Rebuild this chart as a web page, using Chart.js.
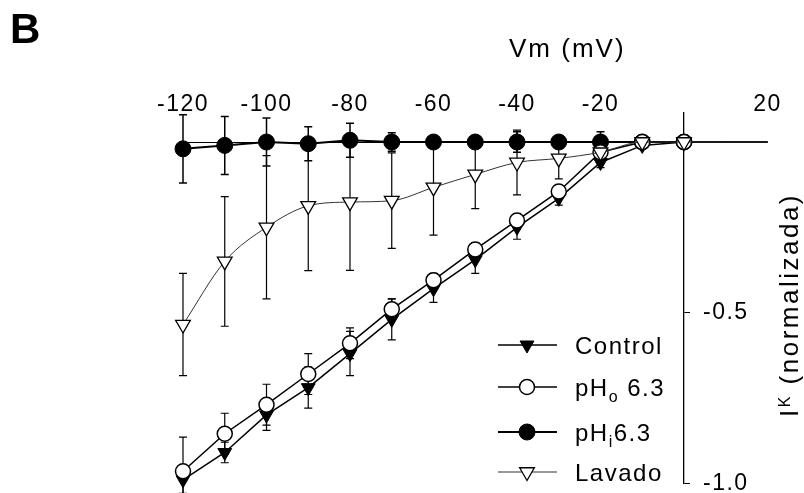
<!DOCTYPE html>
<html>
<head>
<meta charset="utf-8">
<script src="https://cdn.jsdelivr.net/npm/chart.js@4/dist/chart.umd.min.js"></script>
<style>
  html, body { margin: 0; padding: 0; background: #fff; }
  #wrap { width: 804px; height: 493px; }
</style>
</head>
<body>
<div id="wrap"><canvas id="iv" width="804" height="493"></canvas></div>
<script>
// Membrane potential (mV)
const vm = [-120, -110, -100, -90, -80, -70, -60, -50, -40, -30, -20, -10, 0, 10, 20];

// Normalised K+ current, mean and error for each condition
const control    = [-0.99, -0.91, -0.80, -0.72, -0.62, -0.52, -0.43, -0.345, -0.25, -0.165, -0.06, -0.01, 0, 0, 0];
const controlErr = [0.04, 0.03, 0.045, 0.06, 0.065, 0.06, 0.04, 0.04, 0.035, 0.02, 0.015, 0, 0, 0, 0];
const phO        = [-0.965, -0.855, -0.77, -0.68, -0.59, -0.49, -0.405, -0.315, -0.23, -0.145, -0.03, 0, 0, 0, 0];
const phOErr     = [0.1, 0.06, 0.06, 0.06, 0.045, 0.03, 0.02, 0.02, 0.02, 0.015, 0.01, 0, 0, 0, 0];
const phI        = [-0.02, -0.01, 0, -0.005, 0.005, 0, 0, 0, 0, 0, 0, 0, 0, 0, 0];
const phIErr     = [0.1, 0.085, 0.07, 0.05, 0.05, 0.027, 0.01, 0, 0.03, 0, 0.03, 0, 0, 0, 0];
const lavado     = [-0.535, -0.35, -0.25, -0.187, -0.176, -0.172, -0.133, -0.095, -0.06, -0.048, -0.03, 0, 0, 0, 0];
const lavadoErr  = [0.15, 0.19, 0.21, 0.19, 0.2, 0.14, 0.14, 0.10, 0.095, 0.06, 0.02, 0, 0, 0, 0];

// Axis ticks
const xTicks = [-120, -100, -80, -60, -40, -20, 20];
const yTicks = [-1.0, -0.5, 0];

const FONT = "'Liberation Sans', Arial, Helvetica, sans-serif";

function pts(values) {
  return values.map((v, i) => ({ x: vm[i], y: v }));
}

// Vertical error bars with caps, drawn underneath the markers
const errorBars = {
  id: 'errorBars',
  beforeDatasetsDraw(chart) {
    const { ctx, scales: { x, y } } = chart;
    ctx.save();
    chart.data.datasets.forEach(ds => {
      if (!ds.errors) return;
      ctx.strokeStyle = '#000';
      ctx.lineWidth = ds.errorWidth || 1;
      ds.data.forEach((p, i) => {
        const e = ds.errors[i];
        if (!e) return;
        const px = x.getPixelForValue(p.x);
        const y1 = y.getPixelForValue(p.y + e);
        const y2 = y.getPixelForValue(p.y - e);
        const c = 4;
        ctx.beginPath();
        ctx.moveTo(px, y1); ctx.lineTo(px, y2);
        ctx.moveTo(px - c, y1); ctx.lineTo(px + c, y1);
        ctx.moveTo(px - c, y2); ctx.lineTo(px + c, y2);
        ctx.stroke();
      });
    });
    ctx.restore();
  }
};

// Panel letter, axis titles and legend
const LEGEND_ROWS = [345, 387, 432, 472];
const decorations = {
  id: 'decorations',
  beforeDraw(chart) {
    chart.ctx.letterSpacing = '1.5px';
  },
  afterDraw(chart) {
    const ctx = chart.ctx;
    ctx.save();
    ctx.fillStyle = '#000';
    ctx.textBaseline = 'alphabetic';
    ctx.textAlign = 'left';

    // panel letter
    ctx.letterSpacing = '0px';
    ctx.font = 'bold 42px ' + FONT;
    ctx.fillText('B', 10, 43);

    // x title
    ctx.letterSpacing = '2px';
    ctx.font = '26px ' + FONT;
    ctx.fillText('Vm (mV)', 509, 57);

    // y title, rotated, with the K index
    ctx.save();
    ctx.translate(798, 305);
    ctx.rotate(-Math.PI / 2);
    ctx.letterSpacing = '2.5px';
    ctx.font = '26px ' + FONT;
    const wI = ctx.measureText('I').width;
    const rest = ' (normalizada)';
    const wR = ctx.measureText(rest).width;
    ctx.font = '16px ' + FONT;
    const wK = ctx.measureText('K').width;
    let sx = -(wI + wK + wR) / 2;
    ctx.font = '26px ' + FONT;
    ctx.fillText('I', sx, 0); sx += wI;
    ctx.font = '16px ' + FONT;
    ctx.fillText('K', sx, -8); sx += wK;
    ctx.font = '26px ' + FONT;
    ctx.fillText(rest, sx, 0);
    ctx.restore();

    // legend: sample line, marker and label for each series
    const items = chart.data.datasets.slice().sort((a, b) => a.legendRow - b.legendRow);
    items.forEach((ds, k) => {
      const yy = LEGEND_ROWS[k];
      ctx.save();
      ctx.strokeStyle = ds.borderColor;
      ctx.lineWidth = ds.borderWidth;
      ctx.beginPath();
      ctx.moveTo(498, yy); ctx.lineTo(557, yy);
      ctx.stroke();
      ctx.fillStyle = ds.pointBackgroundColor;
      ctx.strokeStyle = ds.pointBorderColor;
      ctx.lineWidth = ds.pointBorderWidth;
      Chart.helpers.drawPoint(ctx, {
        pointStyle: ds.pointStyle,
        rotation: ds.pointRotation || 0,
        radius: ds.pointRadius,
        borderWidth: ds.pointBorderWidth
      }, 527, yy);
      ctx.restore();

      ctx.save();
      ctx.fillStyle = '#000';
      ctx.letterSpacing = '1.5px';
      ctx.textBaseline = 'alphabetic';
      ctx.textAlign = 'left';
      const base = yy + 9;
      let tx = 575;
      ds.labelParts.forEach(part => {
        ctx.font = (part.sub ? '16px ' : '24px ') + FONT;
        ctx.fillText(part.t, tx, part.sub ? base + 6 : base);
        tx += ctx.measureText(part.t).width;
      });
      ctx.restore();
    });
    ctx.restore();
  }
};

const datasets = [
  {
    label: 'Control',
    legendRow: 0,
    labelParts: [{ t: 'Control' }],
    data: pts(control),
    errors: controlErr,
    errorWidth: 1.2,
    borderColor: '#000',
    borderWidth: 1.5,
    pointStyle: 'triangle',
    pointRotation: 180,
    pointRadius: 8,
    pointBackgroundColor: '#000',
    pointBorderColor: '#000',
    pointBorderWidth: 1,
    order: 3
  },
  {
    label: 'pHo 6.3',
    legendRow: 1,
    labelParts: [{ t: 'pH' }, { t: 'o', sub: true }, { t: ' 6.3' }],
    data: pts(phO),
    errors: phOErr,
    errorWidth: 1.2,
    borderColor: '#000',
    borderWidth: 1.5,
    pointStyle: 'circle',
    pointRadius: 7.5,
    pointBackgroundColor: '#fff',
    pointBorderColor: '#000',
    pointBorderWidth: 1.5,
    order: 2
  },
  {
    label: 'pHi 6.3',
    legendRow: 2,
    labelParts: [{ t: 'pH' }, { t: 'i', sub: true }, { t: '6.3' }],
    data: pts(phI),
    errors: phIErr,
    errorWidth: 1.5,
    borderColor: '#000',
    borderWidth: 2,
    pointStyle: 'circle',
    pointRadius: 8,
    pointBackgroundColor: '#000',
    pointBorderColor: '#000',
    pointBorderWidth: 1,
    order: 4
  },
  {
    label: 'Lavado',
    legendRow: 3,
    labelParts: [{ t: 'Lavado' }],
    data: pts(lavado),
    errors: lavadoErr,
    errorWidth: 1.2,
    borderColor: '#333',
    borderWidth: 1,
    cubicInterpolationMode: 'monotone',
    pointStyle: 'triangle',
    pointRotation: 180,
    pointRadius: 8.5,
    pointBackgroundColor: '#fff',
    pointBorderColor: '#000',
    pointBorderWidth: 1.3,
    order: 1
  }
].map(d => Object.assign({ clip: false, fill: false }, d));

new Chart(document.getElementById('iv'), {
  type: 'line',
  data: { datasets },
  options: {
    responsive: false,
    animation: false,
    events: [],
    layout: { padding: { left: 183, right: 0, top: 0, bottom: 4 } },
    plugins: {
      legend: { display: false },
      tooltip: { enabled: false },
      title: { display: false }
    },
    scales: {
      x: {
        type: 'linear',
        position: 'top',
        afterDataLimits(s) { s.min = -120; s.max = 0; },
        afterBuildTicks(s) { s.ticks = xTicks.map(v => ({ value: v })); },
        afterFit(s) { s.height = 113; s.paddingLeft = 0; s.paddingRight = 0; },
        grid: { display: false, drawTicks: false },
        border: { display: false },
        ticks: {
          autoSkip: false,
          maxRotation: 0,
          padding: -3,
          color: '#000',
          font: { family: FONT, size: 23, lineHeight: 1 }
        }
      },
      y: {
        type: 'linear',
        position: 'right',
        min: -1.0,
        max: 0.085,
        afterBuildTicks(s) { s.ticks = yTicks.map(v => ({ value: v })); },
        afterFit(s) { s.width = 120; s.paddingTop = 0; s.paddingBottom = 0; },
        border: { display: true, color: '#000', width: 1.3 },
        grid: {
          drawOnChartArea: true,
          drawTicks: true,
          tickLength: 6,
          lineWidth: 1,
          color: c => (c.tick && c.tick.value === 0) ? '#000' : 'rgba(0,0,0,0)',
          tickColor: c => (c.tick && c.tick.value === 0) ? 'rgba(0,0,0,0)' : '#000'
        },
        ticks: {
          padding: 13,
          color: '#000',
          font: { family: FONT, size: 23, lineHeight: 1 },
          callback: v => (v === 0 ? '' : Number(v).toFixed(1))
        }
      }
    }
  },
  plugins: [errorBars, decorations]
});
</script>
</body>
</html>
